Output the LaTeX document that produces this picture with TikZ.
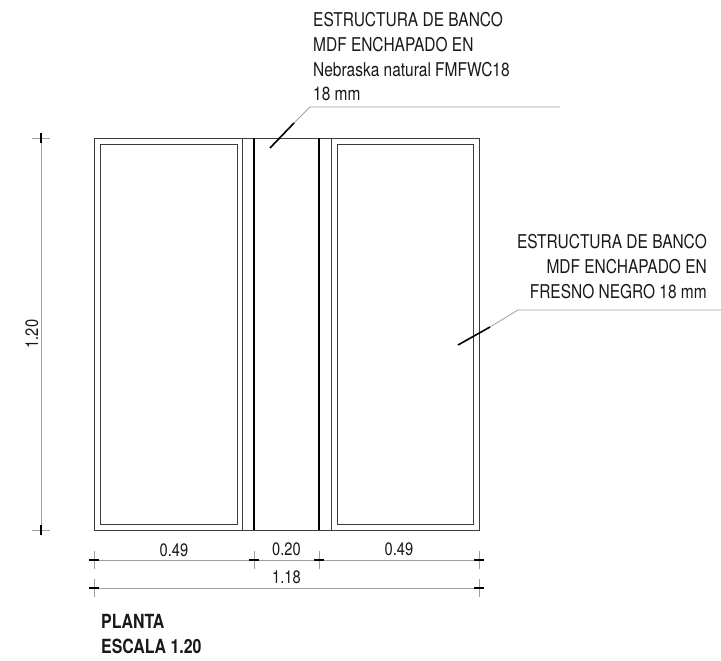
\documentclass[tikz,border=0pt]{standalone}
\usepackage{fontspec}
\setmainfont{TeX Gyre Heros}[FakeStretch=0.815]
\usetikzlibrary{positioning}
\usetikzlibrary{calc}
\definecolor{wallgray}{RGB}{60,60,60}
\definecolor{dimgray}{RGB}{160,160,160}
\tikzset{
  wall/.style={draw=wallgray, line width=1pt},
  heavy/.style={draw=black, line width=1.15pt},
  tip/.style={draw=black, line width=1.6pt},
  dimline/.style={draw=dimgray, line width=0.8pt},
  leader/.style={draw=dimgray, line width=0.8pt},
  dimlabel/.style={inner sep=0pt, font=\fontsize{18}{24.8}\selectfont, text=black!90},
  label/.style={inner sep=0pt, font=\fontsize{19}{24.8}\selectfont, text=black!90},
  title/.style={inner sep=0pt, font=\fontsize{19.5}{24.5}\selectfont\bfseries, align=left, text=black!90}
}
\begin{document}
\begin{tikzpicture}[x=1pt,y=-1pt]
        \useasboundingbox (0,0) rectangle (721,661);
        % plan %
        \draw[wall] (94,138) rectangle (479,530);
        \draw[wall] (100,144) rectangle (237,524);
        \draw[wall] (337,144) rectangle (473,524);
        \draw[wall] (242,138) -- (242,530);
        \draw[wall] (331,138) -- (331,530);
        \draw[heavy] (254,138) -- (254,530);
        \draw[heavy] (319,138) -- (319,530);
        % dimension points %
        \coordinate (a) at (94,560);
        \coordinate (b) at (254,560);
        \coordinate (c) at (319,560);
        \coordinate (d) at (479,560);
        \coordinate (e) at (94,588);
        \coordinate (f) at (479,588);
        \coordinate (g) at (41,138);
        \coordinate (h) at (41,530);
        % dimensions %
        \draw[dimline] (a) -- (b);
        \draw[dimline] (b) -- (c);
        \draw[dimline] (c) -- (d);
        \draw[dimline] (e) -- (f);
        \draw[dimline] (g) -- (h);
        \foreach \p in {a,b,c,d,e,f} {
          \draw[dimline] ($(\p)+(0,-9)$) -- ($(\p)+(0,9)$);
          \draw[heavy] ($(\p)+(-5,0)$) -- ($(\p)+(5,0)$);
        }
        \foreach \p in {g,h} {
          \draw[dimline] ($(\p)+(-9,0)$) -- ($(\p)+(9,0)$);
          \draw[tip] ($(\p)+(0,-5)$) -- ($(\p)+(0,5)$);
        }
        \node[dimlabel, anchor=base] (w1) at (174,556) {0.49};
        \node[dimlabel, anchor=base] (w2) at (286.5,555) {0.20};
        \node[dimlabel, anchor=base] (w3) at (399,555) {0.49};
        \node[dimlabel, anchor=base] (w4) at (286.5,583) {1.18};
        \node[dimlabel, rotate=90, anchor=base] (h1) at (38,334) {1.20};
        % leaders %
        \coordinate (l1) at (270,148);
        \coordinate (l2) at (294,123);
        \coordinate (l3) at (310,107);
        \coordinate (l4) at (560,107);
        \coordinate (m1) at (458,345);
        \coordinate (m2) at (490,327);
        \coordinate (m3) at (518,310);
        \coordinate (m4) at (721,310);
        \draw[leader] (l2) -- (l3) -- (l4);
        \draw[tip] (l1) -- (l2);
        \draw[leader] (m2) -- (m3) -- (m4);
        \draw[tip] (m1) -- (m2);
        % texts %
        \node[label, anchor=base west, align=left] (t1) at (313,101) {ESTRUCTURA DE BANCO\\MDF ENCHAPADO EN\\Nebraska natural FMFWC18\\18 mm};
        \node[label, anchor=base east, align=right] (t2) at (707,298) {ESTRUCTURA DE BANCO\\MDF ENCHAPADO EN\\FRESNO NEGRO 18 mm};
        \node[title, anchor=base west] (t3) at (101,653) {PLANTA\\ESCALA 1.20};
\end{tikzpicture}
\end{document}
